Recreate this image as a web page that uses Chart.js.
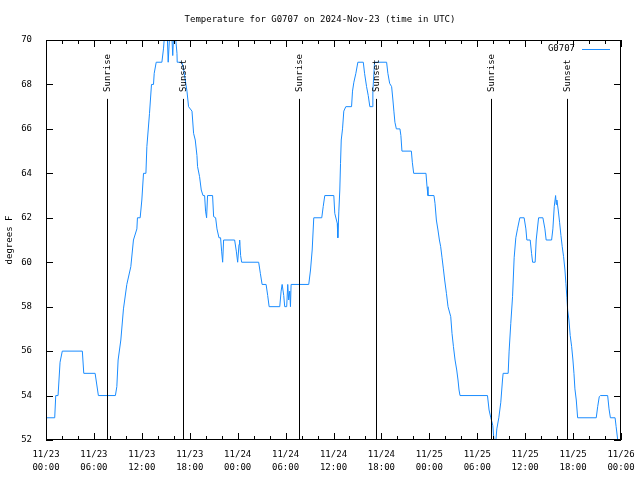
<!DOCTYPE html>
<html>
<head>
<meta charset="utf-8">
<title>Temperature for G0707</title>
<script src="https://cdn.jsdelivr.net/npm/chart.js@4/dist/chart.umd.min.js"></script>
<style>
  body { margin: 0; background: #fff; }
  #wrap { width: 640px; height: 480px; }
</style>
</head>
<body>
<div id="wrap"><canvas id="tempChart" width="640" height="480"></canvas></div>
<script>
// hours since 11/23 00:00 UTC, and temperature readings (deg F)
const hours = [
  0, 1.09, 1.22, 1.51, 1.76, 2.04, 4.55, 4.73, 6.15, 6.56, 8.69, 8.87, 9.03, 9.37, 9.70,
  10.12, 10.62, 10.95, 11.38, 11.45, 11.79, 12.00, 12.21, 12.51, 12.63, 12.96, 13.21, 13.46,
  13.55, 13.80, 14.51, 14.71, 14.86, 15.18, 15.30, 15.49, 15.74, 15.87, 15.99, 16.18, 16.40,
  16.43, 17.02, 17.22, 17.65, 17.85, 18.28, 18.48, 18.69, 18.90, 18.98, 19.23, 19.44, 19.66,
  19.86, 19.98, 20.11, 20.23, 20.86, 20.99, 21.24, 21.41, 21.66, 21.86, 21.99, 22.12, 22.24,
  23.62, 23.83, 24.00, 24.17, 24.25, 24.37, 24.50, 26.63, 26.84, 27.06, 27.56, 27.76, 27.94,
  29.27, 29.44, 29.57, 29.77, 29.89, 30.14, 30.27, 30.39, 30.52, 30.61, 30.69, 32.90, 33.12,
  33.33, 33.53, 34.53, 34.71, 34.91, 36.04, 36.16, 36.47, 36.54, 36.67, 36.79, 36.88, 36.97,
  37.13, 37.29, 37.54, 38.26, 38.38, 38.55, 38.80, 39.05, 39.73, 39.89, 40.14, 40.35, 40.55,
  40.86, 40.93, 41.14, 42.65, 42.81, 43.03, 43.28, 43.44, 43.56, 43.69, 43.87, 44.32, 44.44,
  44.57, 45.75, 45.87, 46.04, 47.58, 47.71, 47.83, 48.58, 48.71, 48.88, 49.08, 49.26, 49.42,
  49.59, 49.76, 49.92, 50.14, 50.34, 50.68, 50.84, 51.02, 51.22, 51.43, 51.59, 51.72, 51.84,
  55.28, 55.48, 55.70, 55.95, 56.11, 56.32, 56.45, 56.70, 56.95, 57.16, 57.24, 57.87, 57.99,
  58.20, 58.42, 58.62, 58.83, 59.04, 59.33, 59.87, 60.09, 60.21, 60.63, 60.80, 60.93, 61.25,
  61.38, 61.68, 62.22, 62.47, 62.63, 63.31, 63.47, 63.64, 63.81, 63.89, 63.97, 64.14, 64.31,
  64.48, 64.64, 64.81, 64.98, 65.10, 65.23, 65.32, 65.48, 65.64, 65.82, 65.98, 66.11, 66.23,
  66.40, 66.57, 68.90, 69.08, 69.28, 69.42, 70.33, 70.50, 70.67, 71.26, 71.39, 71.59, 71.69
];
const temps = [
  53, 53, 54, 54, 55.5, 56, 56, 55, 55, 54, 54, 54.4, 55.6, 56.5, 57.9,
  59.0, 59.8, 61.0, 61.5, 62.0, 62.0, 62.8, 64.0, 64.0, 65.2, 66.7, 68.0, 68.0,
  68.5, 69.0, 69.0, 69.6, 70.3, 70.3, 69.0, 70.3, 70.3, 69.3, 70.3, 70.3, 69.4,
  69.0, 69.0, 68.7, 67.7, 67.0, 66.8, 65.8, 65.5, 64.8, 64.3, 63.85, 63.25, 63.0,
  63.0, 62.3, 62.0, 63.0, 63.0, 62.05, 62.0, 61.5, 61.1, 61.1, 60.5, 60.0, 61.0,
  61.0, 60.5, 60.0, 60.8, 61.0, 60.3, 60.0, 60.0, 59.5, 59.0, 59.0, 58.5, 58.0,
  58.0, 58.7, 59.0, 58.5, 58.0, 58.0, 59.0, 58.3, 58.7, 58.0, 59.0, 59.0, 59.65,
  60.55, 62.0, 62.0, 62.5, 63.0, 63.0, 62.2, 61.75, 61.1, 62.3, 63.25, 64.45, 65.5,
  66.0, 66.8, 67.0, 67.0, 67.7, 68.1, 68.5, 69.0, 69.0, 68.5, 67.9, 67.5, 67.0,
  67.0, 67.7, 69.0, 69.0, 68.5, 68.05, 67.9, 67.3, 66.8, 66.3, 66.0, 66.0, 65.7,
  65.0, 65.0, 64.5, 64.0, 64.0, 63.4, 63.0, 63.0, 62.65, 61.9, 61.45, 61.0, 60.7,
  60.2, 59.7, 59.2, 58.6, 58.0, 57.55, 56.8, 56.2, 55.6, 55.15, 54.7, 54.25, 54.0,
  54.0, 53.35, 53.0, 52.65, 51.9, 51.9, 52.5, 53.0, 53.7, 54.7, 55.0, 55.0, 56.0,
  57.25, 58.45, 60.2, 61.1, 61.5, 62.0, 62.0, 61.5, 61.0, 61.0, 60.4, 60.0, 60.0,
  61.0, 62.0, 62.0, 61.5, 61.0, 61.0, 61.5, 62.5, 63.0, 62.6, 62.8, 62.35, 61.8,
  61.2, 60.7, 60.25, 59.65, 59.05, 58.4, 57.85, 57.4, 56.7, 56.2, 55.6, 55.0, 54.3,
  53.8, 53.0, 53.0, 53.5, 53.95, 54.0, 54.0, 53.4, 53.0, 53.0, 52.6, 52.0, 51.9
];

// sunrise / sunset markers (hours since start)
const sunHours = [7.6, 17.2, 31.65, 41.3, 55.7, 65.3];
const sunLabels = ['Sunrise', 'Sunset', 'Sunrise', 'Sunset', 'Sunrise', 'Sunset'];
const sunLineTop = 67.35;

// axis ticks
const xTickHours = [0, 6, 12, 18, 24, 30, 36, 42, 48, 54, 60, 66, 72];
const xTickDates = ['11/23', '11/24', '11/25', '11/26'];
const yTicks = [52, 54, 56, 58, 60, 62, 64, 66, 68, 70];

const FONT = "'DejaVu Sans Mono', 'Liberation Mono', monospace";
const LINE_COLOR = '#1a8cff';

Chart.defaults.font.family = FONT;
Chart.defaults.font.size = 9;
Chart.defaults.color = '#000';

function pad2(n) { return (n < 10 ? '0' : '') + n; }

// frame, inward tics, title, legend and sun markers (gnuplot look)
const gnuplotDecor = {
  id: 'gnuplotDecor',
  afterDatasetsDraw(chart) {
    const { ctx, chartArea: a, scales: { x, y } } = chart;
    ctx.save();
    ctx.strokeStyle = '#000';
    ctx.lineWidth = 1;

    // sunrise / sunset lines
    ctx.beginPath();
    sunHours.forEach(h => {
      const px = Math.round(x.getPixelForValue(h)) + 0.5;
      ctx.moveTo(px, y.getPixelForValue(sunLineTop));
      ctx.lineTo(px, a.bottom);
    });
    ctx.stroke();

    ctx.fillStyle = '#000';
    ctx.font = '9px ' + FONT;
    sunHours.forEach((h, i) => {
      const px = Math.round(x.getPixelForValue(h)) + 0.5;
      ctx.save();
      ctx.translate(px, y.getPixelForValue(sunLineTop) - 7);
      ctx.rotate(-Math.PI / 2);
      ctx.textAlign = 'left';
      ctx.textBaseline = 'middle';
      ctx.fillText(sunLabels[i], 0, 0);
      ctx.restore();
    });

    // frame
    ctx.strokeRect(a.left + 0.5, a.top + 0.5, a.right - a.left - 1, a.bottom - a.top - 1);

    // x tics, major every 6h, minor every 2h
    ctx.beginPath();
    for (let h = 0; h <= 72; h += 2) {
      const px = Math.round(x.getPixelForValue(h)) + 0.5;
      const len = xTickHours.includes(h) ? 7 : 4;
      ctx.moveTo(px, a.bottom);
      ctx.lineTo(px, a.bottom - len);
      ctx.moveTo(px, a.top);
      ctx.lineTo(px, a.top + len);
    }
    // y tics
    yTicks.forEach(v => {
      const py = Math.round(y.getPixelForValue(v)) + 0.5;
      ctx.moveTo(a.left, py);
      ctx.lineTo(a.left + 7, py);
      ctx.moveTo(a.right, py);
      ctx.lineTo(a.right - 7, py);
    });
    ctx.stroke();

    // title
    ctx.textAlign = 'center';
    ctx.textBaseline = 'middle';
    ctx.fillText('Temperature for G0707 on 2024-Nov-23 (time in UTC)', 320, 20);

    // y axis title
    ctx.save();
    ctx.translate(10, (a.top + a.bottom) / 2);
    ctx.rotate(-Math.PI / 2);
    ctx.fillText('degrees F', 0, 0);
    ctx.restore();

    // legend
    ctx.textAlign = 'right';
    ctx.fillText('G0707', 575, 49);
    ctx.strokeStyle = LINE_COLOR;
    ctx.beginPath();
    ctx.moveTo(582, 49.5);
    ctx.lineTo(610, 49.5);
    ctx.stroke();

    ctx.restore();
  }
};

const ctx = document.getElementById('tempChart').getContext('2d');
const tempChart = new Chart(ctx, {
  type: 'line',
  data: {
    datasets: [{
      label: 'G0707',
      data: hours.map((h, i) => ({ x: h, y: temps[i] })),
      borderColor: LINE_COLOR,
      borderWidth: 1,
      pointRadius: 0,
      tension: 0,
      fill: false
    }]
  },
  options: {
    responsive: false,
    animation: false,
    events: [],
    layout: {
      padding: { top: 40, right: 19, left: 0, bottom: 0 }
    },
    plugins: {
      legend: { display: false },
      title: { display: false },
      tooltip: { enabled: false }
    },
    scales: {
      x: {
        type: 'linear',
        min: 0,
        max: 72,
        afterFit(scale) {
          scale.height = 40;
          scale.paddingLeft = 0;
          scale.paddingRight = 0;
        },
        afterBuildTicks(scale) { scale.ticks = xTickHours.map(v => ({ value: v })); },
        grid: { display: false, drawTicks: false },
        border: { display: false },
        ticks: {
          padding: 9,
          maxRotation: 0,
          autoSkip: false,
          font: { size: 9, lineHeight: 1.35 },
          callback(value) {
            return [xTickDates[Math.floor(value / 24)], pad2(value % 24) + ':00'];
          }
        }
      },
      y: {
        min: 52,
        max: 70,
        afterFit(scale) {
          scale.width = 46;
          scale.paddingTop = 0;
          scale.paddingBottom = 0;
        },
        afterBuildTicks(scale) { scale.ticks = yTicks.map(v => ({ value: v })); },
        grid: { display: false, drawTicks: false },
        border: { display: false },
        ticks: { padding: 14 }
      }
    }
  },
  plugins: [gnuplotDecor]
});
</script>
</body>
</html>
